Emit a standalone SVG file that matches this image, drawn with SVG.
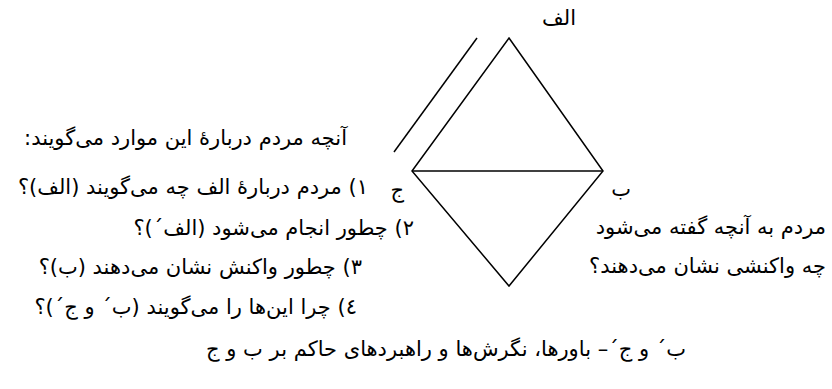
<svg xmlns="http://www.w3.org/2000/svg" width="832" height="389" viewBox="0 0 832 389">
<style>
.t{font-family:"DejaVu Sans","Noto Sans",sans-serif;font-size:21px;fill:#000;direction:rtl;text-anchor:start}
.ln{stroke:#000;stroke-width:1.5;fill:none}
</style>
<rect width="832" height="389" fill="#fff"/>
<g id="diamond">
<polygon class="ln" points="509,38 603,171 509,286 412,171"/>
<line class="ln" x1="412" y1="171" x2="603" y2="171"/>
</g>
<g id="parallel">
<line class="ln" x1="477" y1="38" x2="394" y2="152"/>
</g>
<g id="label-alef"><text class="t" x="576" y="25">الف</text></g>
<g id="label-jim"><text class="t" x="404" y="197">ج</text></g>
<g id="label-be"><text class="t" x="631" y="196">ب</text></g>
<g id="left-text">
<text class="t" x="347" y="145">آنچه مردم دربارهٔ این موارد می‌گویند:</text>
<text class="t" x="368" y="194">١) مردم دربارهٔ الف چه می‌گویند (الف)؟</text>
<text class="t" x="414" y="235">٢) چطور انجام می‌شود (الف´)؟</text>
<text class="t" x="362" y="274">٣) چطور واکنش نشان می‌دهند (ب)؟</text>
<text class="t" x="357" y="314">٤) چرا این‌ها را می‌گویند (ب´ و ج´)؟</text>
</g>
<g id="right-text">
<text class="t" x="826" y="234">مردم به آنچه گفته می‌شود</text>
<text class="t" x="826" y="273">چه واکنشی نشان می‌دهند؟</text>
</g>
<g id="bottom-text">
<text class="t" x="686" y="356">ب´ و ج´– باورها، نگرش‌ها و راهبردهای حاکم بر ب و ج</text>
</g>
</svg>
